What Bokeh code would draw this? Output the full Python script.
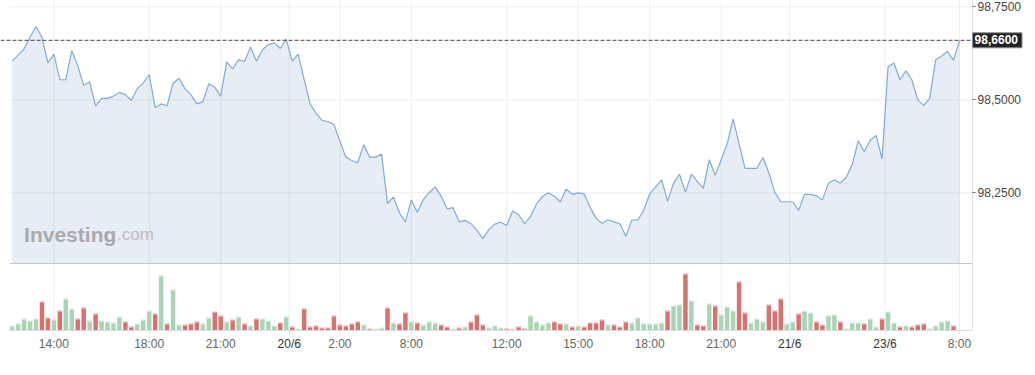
from bokeh.plotting import figure
from bokeh.models import Range1d, FixedTicker, Label, ColumnDataSource, LinearAxis
from bokeh.embed import file_html
from bokeh.resources import INLINE

# ---------------- data ----------------
PRICE = [
    98.604, 98.620, 98.637, 98.668, 98.697, 98.668, 98.599, 98.623, 98.554, 98.554,
    98.632, 98.592, 98.539, 98.548, 98.484, 98.504, 98.504, 98.510, 98.520, 98.514,
    98.499, 98.530, 98.545, 98.568, 98.479, 98.489, 98.484, 98.544, 98.558, 98.530,
    98.514, 98.489, 98.495, 98.543, 98.534, 98.510, 98.602, 98.583, 98.608, 98.603,
    98.642, 98.604, 98.634, 98.649, 98.653, 98.638, 98.663, 98.604, 98.623, 98.555,
    98.489, 98.464, 98.445, 98.441, 98.434, 98.389, 98.346, 98.337, 98.331, 98.379,
    98.346, 98.346, 98.354, 98.221, 98.239, 98.196, 98.172, 98.231, 98.197, 98.232,
    98.251, 98.266, 98.241, 98.207, 98.210, 98.172, 98.176, 98.167, 98.149, 98.127,
    98.151, 98.166, 98.171, 98.162, 98.201, 98.191, 98.167, 98.186, 98.220, 98.240,
    98.250, 98.241, 98.226, 98.260, 98.246, 98.250, 98.247, 98.211, 98.182, 98.168,
    98.177, 98.172, 98.167, 98.133, 98.177, 98.177, 98.203, 98.247, 98.266, 98.285,
    98.227, 98.276, 98.300, 98.252, 98.300, 98.281, 98.262, 98.339, 98.297, 98.339,
    98.381, 98.449, 98.382, 98.316, 98.316, 98.316, 98.345, 98.304, 98.252, 98.226,
    98.226, 98.226, 98.203, 98.246, 98.246, 98.242, 98.231, 98.276, 98.285, 98.276,
    98.292, 98.326, 98.390, 98.361, 98.391, 98.404, 98.341, 98.588, 98.599, 98.554,
    98.578, 98.554, 98.500, 98.485, 98.504, 98.608, 98.618, 98.630, 98.606, 98.660,
]

VOLUME = [
    4.0, 6.3, 11.3, 9.3, 11.0, 28.3, 12.3, 10.3, 19.3, 31.3,
    21.3, 11.3, 22.3, 9.3, 16.3, 9.3, 8.3, 7.3, 13.3, 8.3,
    3.3, 6.3, 10.3, 19.3, 16.3, 54.3, 6.3, 40.3, 5.3, 5.3,
    6.3, 8.3, 6.3, 12.3, 18.3, 14.3, 8.3, 10.3, 13.3, 6.3,
    4.3, 11.3, 11.3, 9.3, 4.3, 7.3, 13.3, 3.3, 1.3, 21.3,
    3.3, 4.3, 2.3, 2.3, 14.3, 5.3, 4.3, 6.3, 8.3, 5.3,
    1.3, 1.3, 2.3, 22.3, 7.3, 6.3, 17.3, 8.3, 7.3, 5.3,
    8.3, 7.3, 5.3, 3.3, 1.3, 2.3, 3.3, 8.3, 15.3, 5.3,
    2.3, 4.3, 2.3, 1.3, 1.3, 3.3, 1.3, 14.3, 8.3, 5.3,
    7.3, 8.3, 6.3, 6.3, 3.3, 4.3, 3.3, 7.3, 7.3, 10.3,
    5.3, 5.3, 3.3, 8.3, 7.3, 12.3, 6.3, 6.3, 6.3, 7.3,
    19.3, 24.3, 25.3, 56.3, 29.3, 5.3, 4.3, 26.3, 24.3, 15.3,
    23.3, 19.3, 48.3, 17.3, 7.3, 11.3, 8.3, 25.3, 19.3, 31.3,
    6.3, 8.3, 16.3, 19.3, 17.3, 8.3, 5.3, 14.3, 15.3, 8.3,
    1.3, 7.3, 7.3, 6.3, 11.3, 3.3, 11.3, 18.3, 7.3, 3.3,
    4.3, 3.3, 5.3, 6.3, 1.3, 4.3, 8.3, 9.3, 4.3, 0.0,
]

# G = up bar (green), R = down bar (red)
DIRECTION = (
    "GGGGGRRGRG" "GRRGRGGGGR" "RGGGRGRGGR" "RRGGRRGRGR" "GRGGGRGRGR"
    "RRRRRRRRRG" "RGGRGRRGRG" "GGRRGRGRRR" "GGGRGRRGGG" "GRRGRGRRRR"
    "GRRRGGGGGG" "RGGRGRRGRG" "GGRRGGGRRR" "GGRGGRRGGR" "GGGRGGRGGR"
    "GRRRGGGGRG"
)

TICK_POS = [7, 23, 35, 46.5, 55, 67, 83, 95, 107, 119, 130.5, 146.5, 159]
TICK_LABELS = ["14:00", "18:00", "21:00", "20/6", "2:00", "8:00", "12:00",
               "15:00", "18:00", "21:00", "21/6", "23/6", "8:00"]
DATE_LABELS = {"20/6", "21/6", "23/6"}

PRICE_TICKS = [98.25, 98.5, 98.75]
PRICE_TICK_LABELS = ["98,2500", "98,5000", "98,7500"]
LAST_PRICE = 98.66
LAST_PRICE_LABEL = "98,6600"

# ---------------- layout / styling constants ----------------
FONT = "Liberation Sans"
X_START, X_END = -1.961, 170.916      # whole canvas width (axis panel included)
DATA_LEFT, DATA_RIGHT = -0.45, 161.2  # chart frame; DATA_RIGHT is the price-axis position
Y_START, Y_END = 97.7724, 98.767
AXIS_Y = 97.88                        # time axis / bottom of volume pane
PANE_BOTTOM = 98.06                   # bottom of the price pane
UP, DOWN = "#a8d5b4", "#d9716e"
UP_CAP, DOWN_CAP = "#cde8d5", "#eba8a6"
GRID = "#eceef1"

idx = list(range(len(PRICE)))

p = figure(width=1030, height=370, output_backend="svg", toolbar_location=None,
           x_range=Range1d(X_START, X_END), y_range=Range1d(Y_START, Y_END),
           x_axis_location=None, y_axis_location=None,
           min_border_left=0, min_border_right=0, min_border_top=0, min_border_bottom=0)
p.extra_y_ranges = {"vol": Range1d(-40, 330)}
p.outline_line_color = None
p.grid.visible = False
p.background_fill_color = "white"
p.border_fill_color = "white"

# grid lines
p.segment(x0=TICK_POS, x1=TICK_POS, y0=AXIS_Y, y1=Y_END, line_color=GRID, line_width=1,
          level="underlay")
p.segment(x0=DATA_LEFT, x1=DATA_RIGHT, y0=PRICE_TICKS, y1=PRICE_TICKS, line_color=GRID,
          line_width=1, level="underlay")

# price area + line
p.varea(x=idx, y1=PANE_BOTTOM, y2=PRICE, fill_color="#3a6ea5", fill_alpha=0.12)
p.line(idx, PRICE, line_color="#80abd9", line_width=1.2)

# volume bars
colors = [UP if d == "G" else DOWN for d in DIRECTION]
caps = [UP_CAP if d == "G" else DOWN_CAP for d in DIRECTION]
vsrc = ColumnDataSource(dict(x=idx, vol=VOLUME, color=colors))
p.vbar(x="x", top="vol", bottom=0, width=0.75, fill_color="color", line_color=None,
       source=vsrc, y_range_name="vol")
cap_rows = [i for i in idx if VOLUME[i] > 0]
csrc = ColumnDataSource(dict(x=[idx[i] for i in cap_rows],
                             vol=[VOLUME[i] for i in cap_rows],
                             color=[caps[i] for i in cap_rows]))
p.rect(x="x", y="vol", width=0.75, height=1.4, height_units="screen",
       fill_color="color", line_color=None, source=csrc, y_range_name="vol")

# separator between panes, last-price dashed line
p.segment(x0=[DATA_LEFT], x1=[DATA_RIGHT], y0=[PANE_BOTTOM], y1=[PANE_BOTTOM],
          line_color="#c3c7cd", line_width=1)
p.segment(x0=[X_START], x1=[DATA_RIGHT], y0=[LAST_PRICE], y1=[LAST_PRICE],
          line_color="#444444", line_width=1, line_dash="4 2")

# price axis (right of the chart frame)
ya = LinearAxis(fixed_location=DATA_RIGHT, bounds=(AXIS_Y, Y_END),
                ticker=FixedTicker(ticks=PRICE_TICKS),
                major_label_overrides={t: l for t, l in zip(PRICE_TICKS, PRICE_TICK_LABELS)})
ya.axis_line_color = "#dcdfe3"
ya.major_tick_out = 3
ya.major_tick_in = 0
ya.major_tick_line_color = "#777777"
ya.minor_tick_line_color = None
ya.major_label_standoff = 2
ya.major_label_text_font = FONT
ya.major_label_text_font_size = "12px"
ya.major_label_text_color = "#444444"
p.add_layout(ya, "right")

# time axis (below)
xa = LinearAxis(fixed_location=AXIS_Y, bounds=(DATA_LEFT, DATA_RIGHT),
                ticker=FixedTicker(ticks=TICK_POS),
                major_label_overrides={t: ("" if l in DATE_LABELS else l)
                                       for t, l in zip(TICK_POS, TICK_LABELS)})
xa.axis_line_color = "#d9dce0"
xa.major_tick_out = 4
xa.major_tick_in = 0
xa.major_tick_line_color = "#e3e5e8"
xa.minor_tick_line_color = None
xa.major_label_standoff = 3
xa.major_label_text_font = FONT
xa.major_label_text_font_size = "12px"
xa.major_label_text_color = "#666666"
p.add_layout(xa, "below")

# day labels (darker) on a second axis at the same place
date_ticks = [t for t, l in zip(TICK_POS, TICK_LABELS) if l in DATE_LABELS]
da = LinearAxis(fixed_location=AXIS_Y, bounds=(DATA_LEFT, DATA_RIGHT),
                ticker=FixedTicker(ticks=date_ticks),
                major_label_overrides={t: l for t, l in zip(TICK_POS, TICK_LABELS)
                                       if l in DATE_LABELS})
da.axis_line_color = None
da.major_tick_out = 4
da.major_tick_in = 0
da.major_tick_line_color = None
da.minor_tick_line_color = None
da.major_label_standoff = 3
da.major_label_text_font = FONT
da.major_label_text_font_size = "12px"
da.major_label_text_color = "#333333"
p.add_layout(da, "below")

# last price tag
p.add_layout(Label(x=DATA_RIGHT, y=LAST_PRICE, text=LAST_PRICE_LABEL, text_font=FONT,
                   text_font_size="12px", text_font_style="bold", text_color="white",
                   text_align="left", text_baseline="middle",
                   background_fill_color="#222222", border_line_color="#8a8a8a",
                   padding=(2, 4, 2, 4)))

# watermark
p.add_layout(Label(x=2, y=98.138, text="Investing", text_font=FONT, text_font_size="21px",
                   text_font_style="bold", text_color="#a9a9a9", text_baseline="alphabetic"))
p.add_layout(Label(x=2, x_offset=93, y=98.138, text=".com", text_font=FONT,
                   text_font_size="17px", text_color="#bdbdbd", text_baseline="alphabetic"))

open("out.html", "w").write(file_html(p, INLINE))
